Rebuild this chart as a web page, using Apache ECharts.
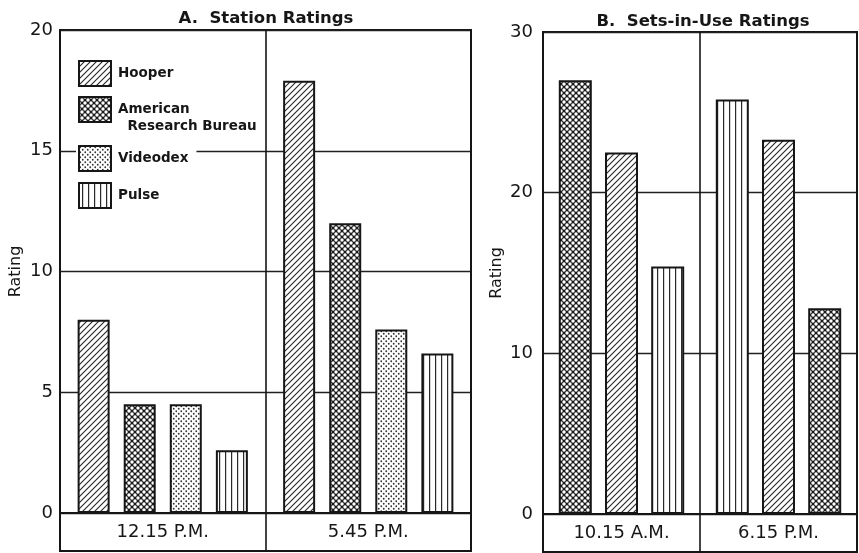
<!DOCTYPE html>
<html>
<head>
<meta charset="utf-8">
<script src="https://cdn.jsdelivr.net/npm/echarts@6/dist/echarts.min.js"></script>
<style>
  html, body { margin: 0; padding: 0; background: #fff; }
  #chart { width: 859px; height: 553px; }
</style>
</head>
<body>
<div id="chart"></div>
<script>
// A. Station ratings, by rating service
const categoriesA = ['12.15 P.M.', '5.45 P.M.'];
const stationHooper = [8.0, 17.9];
const stationARB = [4.5, 12.0];
const stationVideodex = [4.5, 7.6];
const stationPulse = [2.6, 6.6];
const ticksA = { min: 0, max: 20, step: 5 };

// B. Sets-in-use ratings, by rating service
const categoriesB = ['10.15 A.M.', '6.15 P.M.'];
const setsHooper = [22.5, 23.3];
const setsARB = [27.0, 12.8];
const setsPulse = [15.4, 25.8];
// left-to-right order of the bars within each time slot
const setsOrder = [
  ['American Research Bureau', 'Hooper', 'Pulse'],
  ['Pulse', 'Hooper', 'American Research Bureau']
];
const ticksB = { min: 0, max: 30, step: 10 };

const FONT = '"DejaVu Sans", sans-serif';
const INK = '#161616';

// ---- fill patterns ----
function makeTile(w, h, draw) {
  const c = document.createElement('canvas');
  c.width = w; c.height = h;
  const g = c.getContext('2d');
  g.fillStyle = '#ffffff';
  g.fillRect(0, 0, w, h);
  draw(g, w, h);
  return { image: c, repeat: 'repeat' };
}
const hatch = makeTile(6, 6, (g, w, h) => {
  g.strokeStyle = '#262626';
  g.lineWidth = 1.1;
  g.beginPath();
  g.moveTo(-1, h + 1); g.lineTo(w + 1, -1);
  g.moveTo(-1, 1); g.lineTo(1, -1);
  g.moveTo(w - 1, h + 1); g.lineTo(w + 1, h - 1);
  g.stroke();
});
const crossDots = makeTile(6, 6, (g, w, h) => {
  g.fillStyle = '#1a1a1a';
  g.fillRect(0, 0, w, h);
  g.fillStyle = '#ffffff';
  [[0, 0], [w, 0], [0, h], [w, h], [w / 2, h / 2]].forEach(([x, y]) => {
    g.beginPath(); g.arc(x, y, 1.7, 0, Math.PI * 2); g.fill();
  });
});
const stipple = makeTile(5, 5, (g) => {
  g.fillStyle = '#333333';
  [[1.25, 1.25], [3.75, 3.75]].forEach(([x, y]) => {
    g.beginPath(); g.arc(x, y, 0.9, 0, Math.PI * 2); g.fill();
  });
});
const verticals = makeTile(6, 4, (g) => {
  g.fillStyle = '#2a2a2a';
  g.fillRect(3, 0, 1.2, 4);
});

const patterns = {
  'Hooper': hatch,
  'American Research Bureau': crossDots,
  'Videodex': stipple,
  'Pulse': verticals
};
const setsValues = {
  'Hooper': setsHooper,
  'American Research Bureau': setsARB,
  'Pulse': setsPulse
};

const barBorder = { borderColor: INK, borderWidth: 2 };

// ---- grids: plot area + label strip for each panel ----
const grids = [
  { left: 60, top: 30, width: 411, height: 483 },
  { left: 60, top: 513, width: 411, height: 38 },
  { left: 543, top: 32, width: 314, height: 482 },
  { left: 543, top: 514, width: 314, height: 38 }
].map(g => Object.assign({ show: true, borderColor: INK, borderWidth: 2, backgroundColor: 'transparent' }, g));

function plotX(gridIndex, cats) {
  return {
    type: 'category', gridIndex, data: cats,
    axisLine: { show: true, lineStyle: { color: INK, width: 2 } },
    axisTick: { show: false }, axisLabel: { show: false },
    splitLine: { show: true, lineStyle: { color: INK, width: 1.6 } }
  };
}
function stripX(gridIndex, cats) {
  return {
    type: 'category', gridIndex, data: cats, position: 'top',
    axisLine: { show: false }, axisTick: { show: false },
    axisLabel: { inside: true, margin: 10, fontFamily: FONT, fontSize: 18, color: INK },
    splitLine: { show: true, lineStyle: { color: INK, width: 1.6 } }
  };
}
function plotY(gridIndex, t, gap, margin) {
  return {
    type: 'value', gridIndex, min: t.min, max: t.max, interval: t.step,
    name: 'Rating', nameLocation: 'middle', nameGap: gap,
    nameTextStyle: { fontFamily: FONT, fontSize: 16, color: INK },
    axisLine: { show: false }, axisTick: { show: false },
    axisLabel: { margin, fontFamily: FONT, fontSize: 18, color: INK },
    splitLine: { show: true, lineStyle: { color: '#202020', width: 1.4 } }
  };
}
function stripY(gridIndex) {
  return { type: 'value', gridIndex, show: false, min: 0, max: 1 };
}

// ---- series ----
const seriesA = [
  ['Hooper', stationHooper],
  ['American Research Bureau', stationARB],
  ['Videodex', stationVideodex],
  ['Pulse', stationPulse]
].map(([name, data]) => ({
  name, type: 'bar', xAxisIndex: 0, yAxisIndex: 0, data,
  barWidth: 32, barGap: '44%',
  itemStyle: Object.assign({ color: patterns[name] }, barBorder)
}));

const seriesB = [0, 1, 2].map(slot => ({
  name: 'slot ' + (slot + 1), type: 'bar', xAxisIndex: 2, yAxisIndex: 2,
  barWidth: 33, barGap: '40%',
  data: categoriesB.map((c, ci) => {
    const svc = setsOrder[ci][slot];
    return { value: setsValues[svc][ci], itemStyle: Object.assign({ color: patterns[svc] }, barBorder) };
  })
}));

// ---- key, one block per service so each row sits exactly ----
function keyRow(name, top, opts) {
  opts = opts || {};
  return {
    data: [name], left: 76, top, orient: 'vertical', selectedMode: false,
    itemWidth: 32, itemHeight: 25, padding: [2, 8, 2, 2],
    backgroundColor: opts.bg ? '#ffffff' : 'transparent',
    icon: 'rect',
    itemStyle: { borderColor: INK, borderWidth: 2 },
    formatter: opts.text || name,
    textStyle: { fontFamily: FONT, fontSize: 13.5, fontWeight: 'bold', color: INK,
      lineHeight: 17, padding: [0, 0, 0, 2] }
  };
}

const option = {
  animation: false,
  backgroundColor: '#ffffff',
  title: [
    { text: 'A.  Station Ratings', left: 261, top: 5, textAlign: 'center',
      textStyle: { fontFamily: FONT, fontSize: 16.5, fontWeight: 'bold', color: INK } },
    { text: 'B.  Sets-in-Use Ratings', left: 698, top: 8, textAlign: 'center',
      textStyle: { fontFamily: FONT, fontSize: 16.5, fontWeight: 'bold', color: INK } }
  ],
  legend: [
    keyRow('Hooper', 58),
    keyRow('American Research Bureau', 82, { text: '\nAmerican\n  Research Bureau' }),
    keyRow('Videodex', 143, { bg: true }),
    keyRow('Pulse', 180)
  ],
  grid: grids,
  xAxis: [plotX(0, categoriesA), stripX(1, categoriesA), plotX(2, categoriesB), stripX(3, categoriesB)],
  yAxis: [plotY(0, ticksA, 36, 7), stripY(1), plotY(2, ticksB, 38, 10), stripY(3)],
  series: seriesA.concat(seriesB)
};

echarts.init(document.getElementById('chart')).setOption(option);
</script>
</body>
</html>
